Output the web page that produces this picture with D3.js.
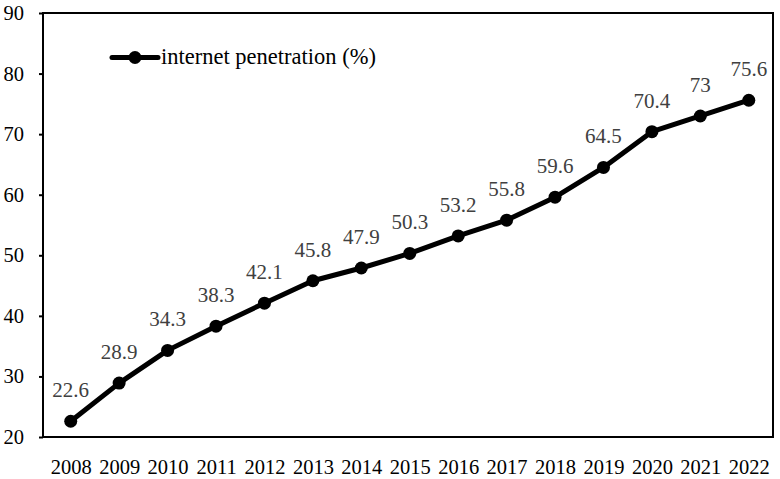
<!DOCTYPE html>
<html>
<head>
<meta charset="utf-8">
<script src="https://cdn.jsdelivr.net/npm/d3@7"></script>
<style>
html,body{margin:0;padding:0;background:#fff;}
svg{display:block;}
text{font-family:"Liberation Serif","Times New Roman",serif;}
</style>
</head>
<body>
<svg id="chart" width="780" height="479"></svg>
<script>
const years = ["2008","2009","2010","2011","2012","2013","2014","2015","2016","2017","2018","2019","2020","2021","2022"];
const values = [22.6,28.9,34.3,38.3,42.1,45.8,47.9,50.3,53.2,55.8,59.6,64.5,70.4,73,75.6];
const valueLabels = ["22.6","28.9","34.3","38.3","42.1","45.8","47.9","50.3","53.2","55.8","59.6","64.5","70.4","73","75.6"];
const yTicks = [20,30,40,50,60,70,80,90];
const seriesName = "internet penetration (%)";

const svg = d3.select("#chart");
const plotL = 43, plotR = 773, plotT = 13, plotB = 437;

const x = d3.scalePoint().domain(years).range([46.5, 773]).padding(0.5);
const y = d3.scaleLinear().domain([20, 90]).range([plotB, plotT]);

// frame
svg.append("rect").attr("x", plotL).attr("y", plotT)
  .attr("width", plotR - plotL).attr("height", plotB - plotT)
  .attr("fill", "none").attr("stroke", "#000").attr("stroke-width", 2);

// y axis
const yAxis = svg.append("g").attr("transform", `translate(${plotL},0)`)
  .call(d3.axisLeft(y).tickValues(yTicks).tickSize(4).tickPadding(15).tickFormat(d3.format("d")));
yAxis.select(".domain").remove();
yAxis.selectAll(".tick line").attr("stroke", "#000").attr("stroke-width", 2);
yAxis.selectAll(".tick text").attr("font-size", 20.5).attr("fill", "#000")
  .attr("font-family", "Liberation Serif");

// x axis
const xAxis = svg.append("g").attr("transform", `translate(0,${plotB})`)
  .call(d3.axisBottom(x).tickSize(0).tickPadding(22));
xAxis.select(".domain").remove();
xAxis.selectAll(".tick text").attr("font-size", 20.5).attr("fill", "#000")
  .attr("font-family", "Liberation Serif");

const data = years.map((yr, i) => ({yr, v: values[i], label: valueLabels[i]}));

// line
svg.append("path").datum(data)
  .attr("fill", "none").attr("stroke", "#000").attr("stroke-width", 5)
  .attr("stroke-linejoin", "round")
  .attr("d", d3.line().x(d => x(d.yr)).y(d => y(d.v)));

svg.selectAll("circle.pt").data(data).join("circle").attr("class", "pt")
  .attr("cx", d => x(d.yr)).attr("cy", d => y(d.v)).attr("r", 6.5).attr("fill", "#000");

svg.selectAll("text.lbl").data(data).join("text").attr("class", "lbl")
  .attr("x", d => x(d.yr)).attr("y", d => y(d.v) - 24)
  .attr("text-anchor", "middle").attr("font-size", 21).attr("fill", "#404040")
  .text(d => d.label);

// legend
const lg = svg.append("g");
lg.append("line").attr("x1", 112).attr("x2", 158).attr("y1", 57.5).attr("y2", 57.5)
  .attr("stroke", "#000").attr("stroke-width", 5).attr("stroke-linecap", "round");
lg.append("circle").attr("cx", 135).attr("cy", 57.5).attr("r", 6.5).attr("fill", "#000");
lg.append("text").attr("x", 161).attr("y", 64).attr("font-size", 22.5).attr("fill", "#000")
  .text(seriesName);
</script>
</body>
</html>
